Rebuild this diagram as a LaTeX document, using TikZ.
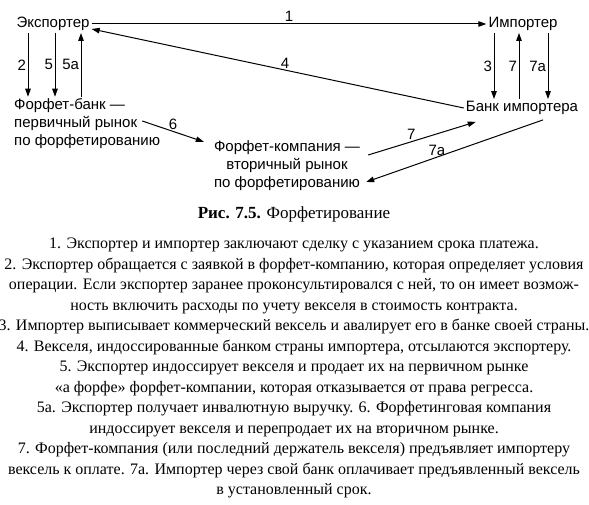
\documentclass[tikz,border=0pt]{standalone}
\usepackage{fontspec}
\setmainfont{Liberation Serif}
\newfontfamily\diagfont{Liberation Sans}
\usepackage{tikz}
\usetikzlibrary{arrows.meta,positioning,calc}

\begin{document}
\begin{tikzpicture}[
	x=1pt, y=1pt,
	party/.style={inner sep=2pt, font=\diagfont\fontsize{15}{18}\selectfont},
	market/.style={party, align=left},
	num/.style={inner sep=1.5pt, font=\diagfont\fontsize{15}{18}\selectfont},
	arr/.style={-{Triangle[length=8pt,width=5.5pt]}, line width=1pt}
]
\useasboundingbox (0,0) rectangle (589,-505);
\node[party] (exp) at (53,-24) {Экспортер};
\node[party] (imp) at (523,-24) {Импортер};
\node[party] (bimp) at (522,-108) {Банк импортера};
\node[market, anchor=west] (fbank) at (12,-124) {Форфет-банк —\\первичный рынок\\по форфетированию};
\node[market, align=center] (fcomp) at (287,-166) {Форфет-компания —\\вторичный рынок\\по форфетированию};

\draw[arr] (exp.east) -- node[num, above]{1} (imp.west);
\draw[arr] (bimp.west) -- node[num, pos=0.48, above]{4} ([yshift=-5pt]exp.east);
\draw[arr] (exp.south -| 28,0) -- node[num, left]{2} (fbank.north -| 28,0);
\draw[arr] (exp.south -| 55,0) -- node[num, left]{5} (fbank.north -| 55,0);
\draw[arr] (fbank.north -| 81,0) -- node[num, left]{5а} (exp.south -| 81,0);
\draw[arr] (imp.south -| 494,0) -- node[num, left]{3} (bimp.north -| 494,0);
\draw[arr] (bimp.north -| 519,0) -- node[num, left]{7} (imp.south -| 519,0);
\draw[arr] (imp.south -| 548,0) -- node[num, left]{7а} (bimp.north -| 548,0);
\draw[arr] ([xshift=-20pt,yshift=3pt]fbank.east) -- node[num, above]{6} ([xshift=-8pt,yshift=-3pt]fcomp.north west);
\draw[arr] ([xshift=6pt,yshift=11pt]fcomp.east) -- node[num, pos=0.4, above]{7} ([xshift=12pt,yshift=-5pt]bimp.south west);
\draw[arr] ([xshift=21pt,yshift=-3pt]bimp.south) -- node[num, pos=0.6, above]{7а} ([xshift=4pt,yshift=-16pt]fcomp.east);

\node[font=\fontsize{17}{20}\selectfont] (cap) at (294,-214) {\textbf{Рис. 7.5.} Форфетирование};
\node[anchor=north, inner sep=0pt, align=center, font=\fontsize{16}{20.5}\selectfont] (notes) at (294,-238) {%
1. Экспортер и импортер заключают сделку с указанием срока платежа.\\
2. Экспортер обращается с заявкой в форфет-компанию, которая определяет условия\\
операции. Если экспортер заранее проконсультировался с ней, то он имеет возмож-\\
ность включить расходы по учету векселя в стоимость контракта.\\
3. Импортер выписывает коммерческий вексель и авалирует его в банке своей страны.\\
4. Векселя, индоссированные банком страны импортера, отсылаются экспортеру.\\
5. Экспортер индоссирует векселя и продает их на первичном рынке\\
«а форфе» форфет-компании, которая отказывается от права регресса.\\
5а. Экспортер получает инвалютную выручку. 6. Форфетинговая компания\\
индоссирует векселя и перепродает их на вторичном рынке.\\
7. Форфет-компания (или последний держатель векселя) предъявляет импортеру\\
вексель к оплате. 7а. Импортер через свой банк оплачивает предъявленный вексель\\
в установленный срок.};
\end{tikzpicture}
\end{document}
